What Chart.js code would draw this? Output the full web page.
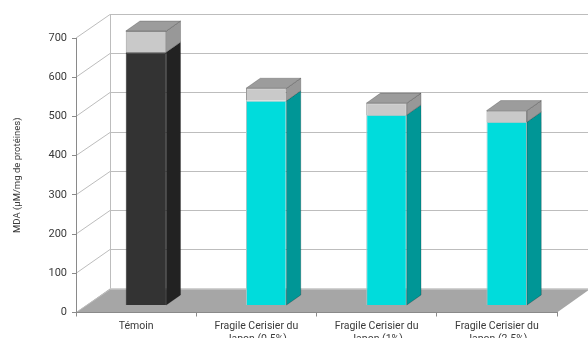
<!DOCTYPE html>
<html>
<head>
<meta charset="utf-8">
<script src="https://cdn.jsdelivr.net/npm/chart.js@4/dist/chart.umd.min.js"></script>
<style>
  html, body { margin: 0; padding: 0; background: #ffffff; }
  canvas { display: block; }
</style>
</head>
<body>
<canvas id="chart" width="588" height="338"></canvas>
<script>
// MDA levels per treatment group, mean and standard deviation
const categories = [
  'Témoin',
  ['Fragile Cerisier du', 'Japon (0.5%)'],
  ['Fragile Cerisier du', 'Japon (1%)'],
  ['Fragile Cerisier du', 'Japon (2.5%)']
];
const mdaMeans = [646, 522, 486, 468];
const mdaErrors = [54, 32, 30, 29];
const yMin = 0;
const yMax = 700;
const yStep = 100;
const yTitle = 'MDA (µM/mg de protéines)';

// Styling
const FONT = 'Roboto';
const TEXT = '#3a3a3a';
const FRONT_COLORS = ['#333333', '#00dcdc', '#00dcdc', '#00dcdc'];
const SIDE_COLORS = ['#222222', '#009696', '#009696', '#009696'];
const BORDER_COLORS = ['#2a2a2a', '#9fc9c9', '#9fc9c9', '#9fc9c9'];
const CAP_FRONT = '#c9c9c9';
const CAP_SIDE = '#989898';
const CAP_TOP = '#9c9c9c';
const WALL_LINE = '#bdbdbd';
const FLOOR = '#a6a6a6';

// Oblique projection: full depth of the plot box, and where the bars sit inside it
const DEPTH = { x: 34, y: -24 };
const BAR_NEAR = 0.29;
const BAR_FAR = 0.71;

const depth3d = {
  id: 'depth3d',
  beforeDraw(chart) {
    const { ctx, chartArea: a, scales: { y } } = chart;
    ctx.save();
    ctx.fillStyle = '#ffffff';
    ctx.fillRect(0, 0, chart.width, chart.height);

    // floor
    const y0 = y.getPixelForValue(yMin);
    ctx.fillStyle = FLOOR;
    ctx.beginPath();
    ctx.moveTo(a.left, y0);
    ctx.lineTo(a.right, y0);
    ctx.lineTo(a.right + DEPTH.x, y0 + DEPTH.y);
    ctx.lineTo(a.left + DEPTH.x, y0 + DEPTH.y);
    ctx.closePath();
    ctx.fill();

    // side wall diagonals and back wall grid
    ctx.strokeStyle = WALL_LINE;
    ctx.lineWidth = 1;
    y.ticks.forEach(t => {
      const py = y.getPixelForValue(t.value);
      const by = Math.round(py + DEPTH.y) + 0.5;
      ctx.beginPath();
      ctx.moveTo(a.left, py);
      ctx.lineTo(a.left + DEPTH.x, by);
      ctx.lineTo(a.right + DEPTH.x, by);
      ctx.stroke();
    });
    const backX = Math.round(a.left + DEPTH.x) + 0.5;
    ctx.beginPath();
    ctx.moveTo(backX, y.getPixelForValue(yMax) + DEPTH.y);
    ctx.lineTo(backX, y0 + DEPTH.y);
    ctx.stroke();
    ctx.restore();
  },
  beforeDatasetsDraw(chart) {
    chart.ctx.save();
    chart.ctx.translate(DEPTH.x * BAR_NEAR, DEPTH.y * BAR_NEAR);
  },
  afterDatasetsDraw(chart) {
    const ctx = chart.ctx;
    const dx = DEPTH.x * (BAR_FAR - BAR_NEAR);
    const dy = DEPTH.y * (BAR_FAR - BAR_NEAR);
    const last = chart.data.datasets.length - 1;
    chart.data.datasets.forEach((ds, di) => {
      const meta = chart.getDatasetMeta(di);
      meta.data.forEach((bar, i) => {
        const p = bar.getProps(['x', 'y', 'base', 'width'], true);
        const left = p.x - p.width / 2;
        const right = p.x + p.width / 2;
        const top = Math.min(p.y, p.base);
        const bottom = Math.max(p.y, p.base);
        ctx.lineWidth = 0.6;
        ctx.strokeStyle = 'rgba(0,0,0,0.35)';
        // side face
        ctx.fillStyle = di === last ? CAP_SIDE : SIDE_COLORS[i];
        ctx.beginPath();
        ctx.moveTo(right, top);
        ctx.lineTo(right + dx, top + dy);
        ctx.lineTo(right + dx, bottom + dy);
        ctx.lineTo(right, bottom);
        ctx.closePath();
        ctx.fill();
        ctx.stroke();
        // top face on the uppermost segment
        if (di === last) {
          ctx.fillStyle = CAP_TOP;
          ctx.beginPath();
          ctx.moveTo(left, top);
          ctx.lineTo(left + dx, top + dy);
          ctx.lineTo(right + dx, top + dy);
          ctx.lineTo(right, top);
          ctx.closePath();
          ctx.fill();
          ctx.stroke();
        }
      });
    });
    ctx.restore();
  }
};

new Chart(document.getElementById('chart'), {
  type: 'bar',
  data: {
    labels: categories,
    datasets: [
      {
        label: 'MDA',
        data: mdaMeans,
        backgroundColor: FRONT_COLORS,
        borderColor: BORDER_COLORS,
        borderWidth: 1,
        clip: false
      },
      {
        label: 'Écart-type',
        data: mdaErrors,
        backgroundColor: CAP_FRONT,
        borderColor: '#9a9a9a',
        borderWidth: 1,
        clip: false
      }
    ]
  },
  options: {
    responsive: false,
    animation: false,
    devicePixelRatio: 1,
    layout: { padding: { top: 38, right: 31, left: 0, bottom: 0 } },
    datasets: { bar: { barPercentage: 0.337, categoryPercentage: 1 } },
    plugins: { legend: { display: false }, tooltip: { enabled: false } },
    scales: {
      x: {
        stacked: true,
        offset: true,
        afterFit(scale) { scale.height = 25.5; },
        grid: { offset: true, drawOnChartArea: false, drawTicks: true, tickLength: 4, color: '#8a8a8a' },
        border: { display: true, color: '#8a8a8a' },
        ticks: {
          color: TEXT,
          padding: 3,
          maxRotation: 0,
          autoSkip: false,
          font: { family: FONT, size: 10.5, lineHeight: 1.25 }
        }
      },
      y: {
        stacked: true,
        min: yMin,
        max: yMax,
        afterFit(scale) { scale.width = 76; },
        grid: { drawOnChartArea: false, drawTicks: true, tickLength: 4, color: '#8a8a8a' },
        border: { display: true, color: '#8a8a8a' },
        ticks: {
          stepSize: yStep,
          color: TEXT,
          padding: 5,
          font: { family: FONT, size: 11 }
        },
        title: {
          display: true,
          text: yTitle,
          color: TEXT,
          padding: { top: 12, bottom: 0 },
          font: { family: FONT, size: 9.5 }
        }
      }
    }
  },
  plugins: [depth3d]
});
</script>
</body>
</html>
